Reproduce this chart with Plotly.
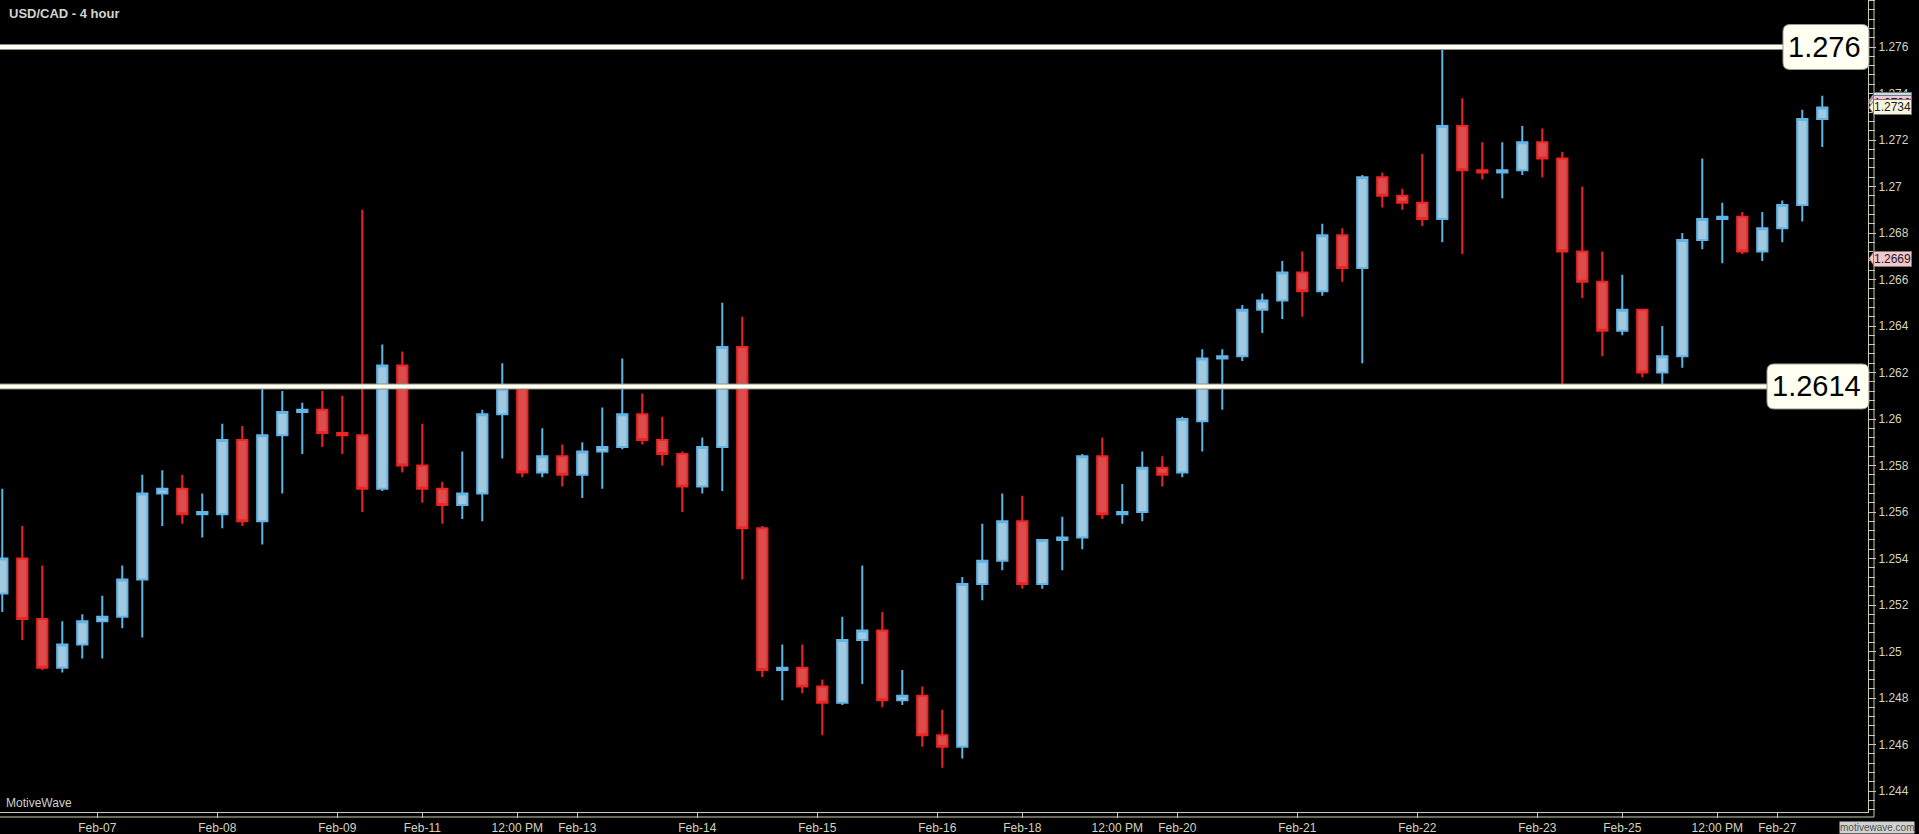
import plotly.graph_objects as go

# ---- data (4-hour USD/CAD candles) ----
opens = [1.2525, 1.2540, 1.2514, 1.2493, 1.2503, 1.2513, 1.2515, 1.2531, 1.2568, 1.2570,
         1.2559, 1.2559, 1.2591, 1.2556, 1.2593, 1.2603, 1.2604, 1.2594, 1.2593, 1.2570,
         1.2623, 1.2580, 1.2570, 1.2563, 1.2568, 1.2602, 1.2613, 1.2577, 1.2584, 1.2576,
         1.2586, 1.2588, 1.2602, 1.2591, 1.2585, 1.2571, 1.2588, 1.2631, 1.2553, 1.2492,
         1.2493, 1.2485, 1.2478, 1.2505, 1.2509, 1.2479, 1.2481, 1.2464, 1.2459, 1.2529,
         1.2539, 1.2556, 1.2529, 1.2548, 1.2549, 1.2584, 1.2559, 1.2560, 1.2579, 1.2577,
         1.2599, 1.2626, 1.2627, 1.2647, 1.2651, 1.2663, 1.2655, 1.2679, 1.2665, 1.2704,
         1.2696, 1.2693, 1.2686, 1.2726, 1.2707, 1.2706, 1.2707, 1.2719, 1.2712, 1.2672,
         1.2659, 1.2638, 1.2647, 1.2620, 1.2627, 1.2677, 1.2686, 1.2687, 1.2672, 1.2682,
         1.2692, 1.2729]
highs = [1.2570, 1.2554, 1.2537, 1.2513, 1.2516, 1.2524, 1.2537, 1.2576, 1.2578, 1.2576,
         1.2568, 1.2598, 1.2597, 1.2614, 1.2612, 1.2607, 1.2612, 1.2610, 1.2690, 1.2632,
         1.2629, 1.2598, 1.2573, 1.2586, 1.2604, 1.2624, 1.2615, 1.2596, 1.2589, 1.2590,
         1.2605, 1.2626, 1.2611, 1.2601, 1.2586, 1.2592, 1.2650, 1.2644, 1.2554, 1.2503,
         1.2503, 1.2488, 1.2515, 1.2537, 1.2517, 1.2492, 1.2485, 1.2475, 1.2532, 1.2555,
         1.2568, 1.2567, 1.2548, 1.2558, 1.2585, 1.2592, 1.2572, 1.2586, 1.2584, 1.2601,
         1.2630, 1.2630, 1.2649, 1.2654, 1.2668, 1.2672, 1.2684, 1.2682, 1.2705, 1.2706,
         1.2699, 1.2714, 1.2760, 1.2738, 1.2719, 1.2719, 1.2726, 1.2725, 1.2715, 1.2700,
         1.2672, 1.2662, 1.2647, 1.2640, 1.2680, 1.2712, 1.2693, 1.2689, 1.2689, 1.2694,
         1.2733, 1.2739]
lows = [1.2517, 1.2505, 1.2492, 1.2491, 1.2497, 1.2497, 1.2510, 1.2506, 1.2554, 1.2555,
        1.2549, 1.2553, 1.2554, 1.2546, 1.2568, 1.2585, 1.2588, 1.2585, 1.2560, 1.2569,
        1.2577, 1.2564, 1.2555, 1.2557, 1.2556, 1.2583, 1.2575, 1.2575, 1.2571, 1.2566,
        1.2570, 1.2587, 1.2589, 1.2580, 1.2560, 1.2568, 1.2569, 1.2531, 1.2489, 1.2479,
        1.2482, 1.2464, 1.2477, 1.2486, 1.2476, 1.2477, 1.2459, 1.2450, 1.2454, 1.2522,
        1.2535, 1.2527, 1.2527, 1.2535, 1.2544, 1.2557, 1.2555, 1.2556, 1.2571, 1.2575,
        1.2586, 1.2604, 1.2625, 1.2637, 1.2643, 1.2644, 1.2653, 1.2659, 1.2624, 1.2691,
        1.2690, 1.2683, 1.2676, 1.2671, 1.2703, 1.2695, 1.2705, 1.2704, 1.2615, 1.2652,
        1.2627, 1.2636, 1.2618, 1.2614, 1.2622, 1.2673, 1.2667, 1.2671, 1.2668, 1.2676,
        1.2685, 1.2717]
closes = [1.2540, 1.2514, 1.2493, 1.2503, 1.2513, 1.2515, 1.2531, 1.2568, 1.2570, 1.2559,
          1.2560, 1.2591, 1.2556, 1.2593, 1.2603, 1.2604, 1.2594, 1.2593, 1.2570, 1.2623,
          1.2580, 1.2570, 1.2563, 1.2568, 1.2602, 1.2613, 1.2577, 1.2584, 1.2576, 1.2586,
          1.2588, 1.2602, 1.2591, 1.2585, 1.2571, 1.2588, 1.2631, 1.2553, 1.2492, 1.2493,
          1.2485, 1.2478, 1.2505, 1.2509, 1.2479, 1.2481, 1.2464, 1.2459, 1.2529, 1.2539,
          1.2556, 1.2529, 1.2548, 1.2549, 1.2584, 1.2559, 1.2560, 1.2579, 1.2576, 1.2600,
          1.2626, 1.2627, 1.2647, 1.2651, 1.2663, 1.2655, 1.2679, 1.2665, 1.2704, 1.2696,
          1.2693, 1.2686, 1.2726, 1.2707, 1.2706, 1.2707, 1.2719, 1.2712, 1.2672, 1.2659,
          1.2638, 1.2647, 1.2620, 1.2627, 1.2677, 1.2686, 1.2687, 1.2672, 1.2682, 1.2692,
          1.2729, 1.2734]
candle_index = list(range(len(opens)))

# x-axis time labels (positions in candle-index units)
x_tick_labels = ["Feb-07", "Feb-08", "Feb-09", "Feb-11", "12:00 PM", "Feb-13", "Feb-14",
                 "Feb-15", "Feb-16", "Feb-18", "12:00 PM", "Feb-20", "Feb-21", "Feb-22",
                 "Feb-23", "Feb-25", "12:00 PM", "Feb-27"]
x_tick_pos = [4.75, 10.75, 16.75, 21.0, 25.75, 28.75, 34.75, 40.75, 46.75, 51.0,
              55.75, 58.75, 64.75, 70.75, 76.75, 81.0, 85.75, 88.75]

# y-axis price labels
y_tick_vals = [1.244, 1.246, 1.248, 1.250, 1.252, 1.254, 1.256, 1.258, 1.260, 1.262,
               1.264, 1.266, 1.268, 1.270, 1.272, 1.274, 1.276]
y_tick_text = [f"{v:.3f}".rstrip("0") for v in y_tick_vals]

# horizontal support / resistance levels
levels = [1.276, 1.2614]
level_labels = ["1.276", "1.2614"]

# price tags on the right axis
tag_values = [1.2737, 1.2736, 1.2734, 1.2669]
tag_texts = ["1.2737", "1.2736", "1.2734", "1.2669"]
tag_colors = ["#c4daf2", "#f2c4dc", "#f8f5dc", "#f6c6ce"]

# ---- styling ----
AXC = "#cbcbb3"
TXC = "#d4d4be"
FONT = "Liberation Sans, Arial, sans-serif"
W, H = 1919, 834
ML, MR, MT, MB = 0, 51, 0, 22
PW, PH = W - ML - MR, H - MT - MB
LEVEL_BOX_W = [86, 102]
LEVEL_BOX_H = 45


def rounded_rect(w, h, r):
    hh = h / 2
    return (f"M {-w + r},{-hh} L {-r},{-hh} Q 0,{-hh} 0,{-hh + r} "
            f"L 0,{hh - r} Q 0,{hh} {-r},{hh} L {-w + r},{hh} Q {-w},{hh} {-w},{hh - r} "
            f"L {-w},{-hh + r} Q {-w},{-hh} {-w + r},{-hh} Z")


fig = go.Figure()
fig.add_trace(go.Candlestick(
    x=candle_index, open=opens, high=highs, low=lows, close=closes,
    increasing=dict(line=dict(color="#62b4e4", width=2), fillcolor="#a2c9de"),
    decreasing=dict(line=dict(color="#ec2424", width=2), fillcolor="#dc4c4c"),
    whiskerwidth=0, showlegend=False, hoverinfo="skip",
))

for lv in levels:
    fig.add_shape(type="line", xref="paper", x0=0, x1=1, yref="y", y0=lv, y1=lv,
                  line=dict(color="#8c8c84", width=6), layer="above")
    fig.add_shape(type="line", xref="paper", x0=0, x1=1, yref="y", y0=lv, y1=lv,
                  line=dict(color="#fffff2", width=4), layer="above")

for lv, txt, bw in zip(levels, level_labels, LEVEL_BOX_W):
    fig.add_shape(type="path", xref="paper", yref="y", xsizemode="pixel", ysizemode="pixel",
                  xanchor=1 + 1 / PW, yanchor=lv, path=rounded_rect(bw, LEVEL_BOX_H, 7),
                  fillcolor="#fffff2", line=dict(color="#9a9a90", width=1), layer="above")
    fig.add_annotation(xref="paper", x=1, xanchor="right", xshift=-5,
                       yref="y", y=lv, yanchor="middle", text=txt, showarrow=False,
                       font=dict(size=29, color="#000000", family=FONT))

for v, txt, col in zip(tag_values, tag_texts, tag_colors):
    fig.add_shape(type="path", xref="paper", yref="y", xsizemode="pixel", ysizemode="pixel",
                  xanchor=1, yanchor=v, path="M 1,0 L 6,7 L 6,-7 Z",
                  fillcolor=col, line=dict(color="#7a7a70", width=1), layer="above")
    fig.add_annotation(xref="paper", x=1, xanchor="left", xshift=5,
                       yref="y", y=v, yanchor="middle", text=txt, showarrow=False,
                       font=dict(size=12, color="#202020", family=FONT),
                       bgcolor=col, bordercolor="#7a7a70", borderwidth=1, borderpad=0)

# outer axis frame lines
ox = 1 + 6 / PW
oy = -5 / PH
fig.add_shape(type="line", xref="paper", yref="paper", x0=0, x1=ox, y0=oy, y1=oy,
              line=dict(color=AXC, width=1))
fig.add_shape(type="line", xref="paper", yref="paper", x0=ox, x1=ox, y0=oy, y1=1,
              line=dict(color=AXC, width=1))

# texts
fig.add_annotation(xref="paper", yref="paper", x=0, y=1, xanchor="left", yanchor="middle",
                   xshift=7, yshift=-13, text="<b>USD/CAD - 4 hour</b>", showarrow=False,
                   font=dict(size=13, color="#d4d4cc", family=FONT))
fig.add_annotation(xref="paper", yref="paper", x=0, y=0, xanchor="left", yanchor="middle",
                   xshift=4, yshift=9, text="MotiveWave", showarrow=False,
                   font=dict(size=12, color="#cfcfcf", family=FONT))
fig.add_annotation(xref="paper", yref="paper", x=1, y=0, xanchor="right", yanchor="middle",
                   xshift=47, yshift=-15.5, text="motivewave.com", showarrow=False,
                   font=dict(size=10, color="#505050", family=FONT),
                   bgcolor="#d2d2d2", borderpad=0)

fig.update_layout(
    template="none",
    width=W, height=H,
    margin=dict(l=ML, r=MR, t=MT, b=MB, pad=0),
    paper_bgcolor="#000000", plot_bgcolor="#000000",
    showlegend=False,
    boxgap=0.265,
    xaxis=dict(range=[-0.115, 93.285], tickmode="array", tickvals=x_tick_pos,
               ticktext=x_tick_labels, ticks="outside", ticklen=5, tickwidth=1,
               tickcolor=AXC, showline=True, linecolor=AXC, linewidth=1,
               showgrid=False, zeroline=False, automargin=False,
               rangeslider=dict(visible=False),
               tickfont=dict(size=12, color=TXC, family=FONT)),
    yaxis=dict(range=[1.243097, 1.278022], side="right", tickmode="array",
               tickvals=y_tick_vals, ticktext=y_tick_text, ticks="outside", ticklen=7,
               tickwidth=1, tickcolor=AXC, showline=True, linecolor=AXC, linewidth=1,
               showgrid=False, zeroline=False, automargin=False,
               tickfont=dict(size=12, color=TXC, family=FONT),
               minor=dict(tickmode="linear", tick0=1.244, dtick=0.0004, ticks="outside",
                          ticklen=6, tickwidth=1, tickcolor=AXC, showgrid=False)),
)

fig.write_html("out.html", config={"displayModeBar": False},
               post_script="document.body.style.margin='0';document.body.style.overflow='hidden';")
